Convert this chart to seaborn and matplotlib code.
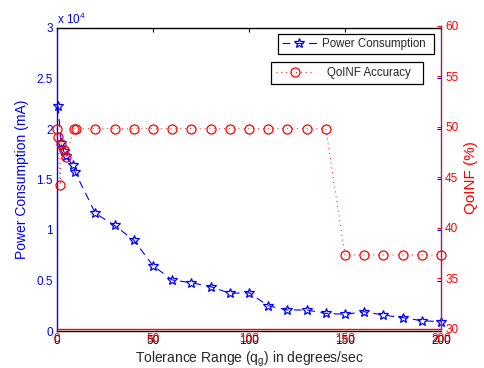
import matplotlib
matplotlib.use('Agg')
import matplotlib.pyplot as plt
import seaborn as sns
from matplotlib.ticker import FuncFormatter

# data
power_x = [0.5, 2.2, 3.5, 4.7, 8.2, 9.5, 20, 30, 40, 50, 60, 70, 80, 90, 100,
           110, 120, 130, 140, 150, 160, 170, 180, 190, 200]
power_y = [22300, 18600, 17800, 17300, 16400, 15700, 11650, 10450, 9000, 6470,
           5050, 4780, 4390, 3730, 3790, 2500, 2080, 2080, 1750, 1650, 1910,
           1580, 1320, 1020, 920]

qoinf_x = [0, 0.3, 1.7, 2.2, 3.5, 4.7, 8.7, 10, 20, 30, 40, 50, 60, 70, 80, 90,
           100, 110, 120, 130, 140, 150, 160, 170, 180, 190, 200]
qoinf_y = [49.8, 49.0, 44.2, 48.3, 47.7, 47.0, 49.8, 49.8, 49.8, 49.8, 49.8,
           49.8, 49.8, 49.8, 49.8, 49.8, 49.8, 49.8, 49.8, 49.8, 49.8, 37.3,
           37.3, 37.3, 37.3, 37.3, 37.3]

x_ticks = [0, 50, 100, 150, 200]
left_ticks = [0, 5000, 10000, 15000, 20000, 25000, 30000]
right_ticks = [30, 35, 40, 45, 50, 55, 60]

sns.set_style('white')
plt.rcParams['font.family'] = ['Liberation Sans', 'DejaVu Sans']
plt.rcParams['mathtext.fontset'] = 'custom'
plt.rcParams['mathtext.rm'] = 'Liberation Sans'
plt.rcParams['mathtext.it'] = 'Liberation Sans'

W, H = 484, 368
fig = plt.figure(figsize=(W / 100, H / 100), dpi=100)
l, r, t, b = 57 / W, 441 / W, 28 / H, 331 / H
ax1 = fig.add_axes([l, 1 - b, r - l, b - t])
shift = 2.3 / H
ax2 = fig.add_axes([l, 1 - b + shift, r - l, b - t])
ax2.patch.set_alpha(0)

blue = '#0000ff'
red = '#ff0000'

sns.lineplot(x=power_x, y=power_y, ax=ax1, color=blue, linestyle='--',
             linewidth=0.8, marker='*', markersize=7, markerfacecolor='none',
             markeredgecolor=blue, markeredgewidth=0.9, errorbar=None,
             label='Power Consumption', clip_on=False)
ax1.lines[0].set_dashes([7, 5])
sns.lineplot(x=qoinf_x, y=qoinf_y, ax=ax2, color=red, linestyle=':',
             linewidth=0.7, marker='o', markersize=6.5, markerfacecolor='none',
             markeredgecolor=red, markeredgewidth=0.9, errorbar=None,
             label='QoINF Accuracy', clip_on=False)
ax2.lines[0].set_dashes([1, 4])

ax1.set_xlim(0, 200)
ax1.set_ylim(0, 30000)
ax2.set_xlim(0, 200)
ax2.set_ylim(30, 60)

ax1.set_xticks(x_ticks)
ax1.set_yticks(left_ticks)
ax1.yaxis.set_major_formatter(FuncFormatter(lambda v, p: f'{v / 1e4:g}'))
ax2.set_xticks(x_ticks)
ax2.set_yticks(right_ticks)

fs = 8.5
ax1.tick_params(axis='both', direction='in', length=3, width=0.8,
                labelsize=fs, pad=3, top=True, right=True)
ax1.tick_params(axis='y', colors=blue)
ax1.tick_params(axis='x', colors='black')
ax2.tick_params(axis='both', direction='in', length=3, width=0.8,
                labelsize=fs, pad=3, colors=red)
ax2.yaxis.tick_right()
ax2.yaxis.set_label_position('right')

ax1.spines['left'].set_color(blue)
for s in ['top', 'bottom']:
    ax1.spines[s].set_color('black')
ax1.spines['right'].set_visible(False)
for s in ax1.spines.values():
    s.set_linewidth(1.0)
ax2.spines['left'].set_visible(False)
ax2.spines['top'].set_visible(False)
ax2.spines['bottom'].set_color(red)
ax2.spines['right'].set_color('#9a1a80')
for s in ax2.spines.values():
    s.set_linewidth(1.0)

ax1.set_ylabel('Power Consumption (mA)', color=blue, fontsize=10, labelpad=5)
ax2.set_ylabel('QoINF (%)', color=red, fontsize=11, labelpad=4)
ax1.set_xlabel(r'Tolerance Range (q$_\mathregular{g}$) in degrees/sec',
               fontsize=10, labelpad=2)
ax2.set_xlabel('')

fig.text(57 / W, 1 - 19 / H, r'x 10$^\mathregular{4}$', color=blue,
         fontsize=8.5, ha='left', va='center')

leg1 = ax1.legend(loc='upper left',
                  bbox_to_anchor=(278 / W, 1 - 34 / H - 0.001, 156 / W, 0.001),
                  bbox_transform=fig.transFigure, mode='expand',
                  fontsize=8.3, frameon=True, fancybox=False,
                  edgecolor='black', framealpha=1, borderpad=0.35,
                  handlelength=3, handletextpad=0.45, borderaxespad=0)
leg2 = ax2.legend(loc='upper left',
                  bbox_to_anchor=(271 / W, 1 - 62 / H - 0.001, 152 / W, 0.001),
                  bbox_transform=fig.transFigure, mode='expand',
                  fontsize=8.3, frameon=True, fancybox=False,
                  edgecolor='black', framealpha=1, borderpad=0.45,
                  handlelength=3.2, handletextpad=1.2, borderaxespad=0)
for lg in (leg1, leg2):
    lg.get_frame().set_linewidth(0.9)

fig.savefig('out.png', dpi=100)
